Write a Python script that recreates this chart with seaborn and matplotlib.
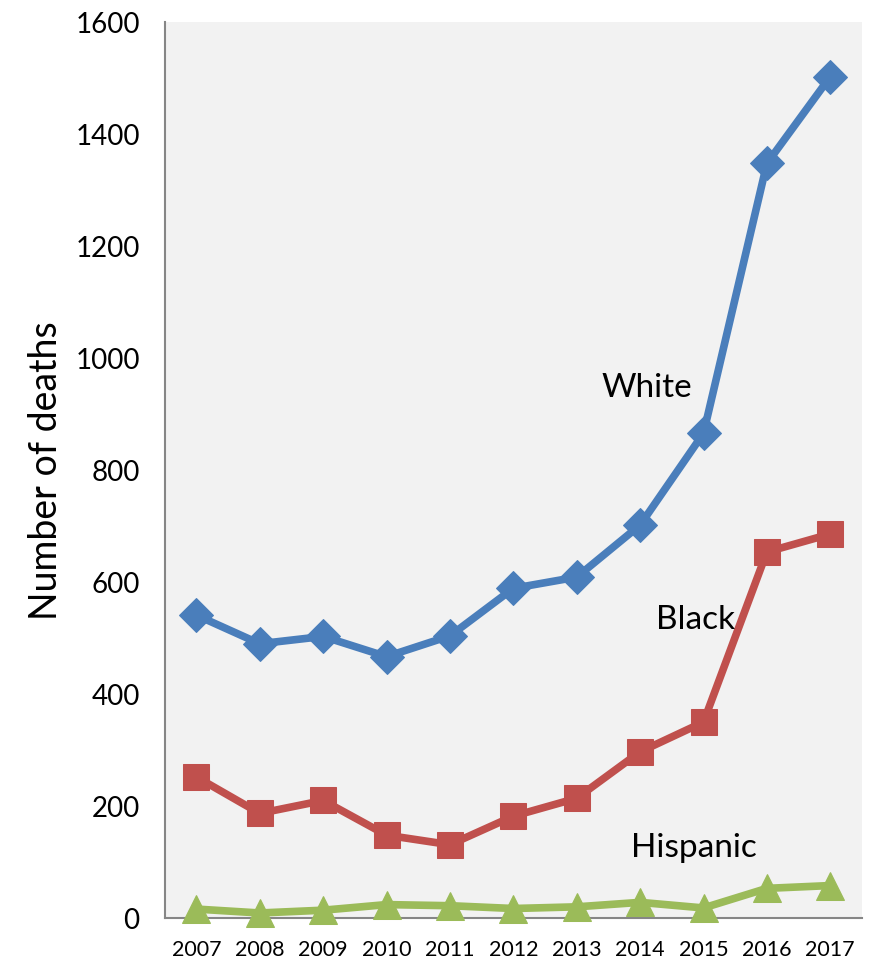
import numpy as np
import pandas as pd
import matplotlib.pyplot as plt
from matplotlib.ticker import FixedLocator
import seaborn as sns

# -----------------------------
# DATA
# -----------------------------
years = ["2007", "2008", "2009", "2010", "2011", "2012",
         "2013", "2014", "2015", "2016", "2017"]
white = [541, 490, 503, 467, 504, 589, 609, 702, 866, 1348, 1503]
black = [252, 187, 210, 148, 131, 182, 214, 297, 350, 654, 686]
hispanic = [16, 9, 14, 24, 22, 17, 20, 28, 18, 53, 58]

series_names = ["White", "Black", "Hispanic"]
series_values = [white, black, hispanic]
series_colors = ["#4A7EBB", "#C0504D", "#9BBB59"]
series_markers = ["D", "s", "^"]
series_msize = [17, 19, 20]

# label positions (year index, value)
label_pos = {"White": (7.1, 946), "Black": (7.87, 532), "Hispanic": (7.85, 125)}

# -----------------------------
# STYLE
# -----------------------------
sns.set_style("white")
plt.rcParams["font.family"] = ["Lato", "DejaVu Sans"]
plt.rcParams["text.color"] = "black"
plt.rcParams["axes.labelcolor"] = "black"
plt.rcParams["xtick.labelcolor"] = "black"
plt.rcParams["ytick.labelcolor"] = "black"

rows = []
for name, vals in zip(series_names, series_values):
    for i, v in enumerate(vals):
        rows.append({"idx": i, "deaths": v, "race": name})
df = pd.DataFrame(rows)

fig = plt.figure(figsize=(8.76, 9.73), dpi=100)
ax = fig.add_axes([0.188, 0.0565, 0.796, 0.9205])
ax.set_facecolor("#F2F2F2")

for name, col, mk, ms in zip(series_names, series_colors, series_markers, series_msize):
    sub = df[df["race"] == name]
    sns.lineplot(data=sub, x="idx", y="deaths", ax=ax, color=col, linewidth=5.5,
                 marker=mk, markersize=ms, markeredgecolor=col, sort=False,
                 clip_on=False, zorder=3)

for name, (x, y) in label_pos.items():
    ax.text(x, y, name, fontsize=24, ha="center", va="center", color="black")

ax.set_xlim(-0.5, len(years) - 0.5)
ax.set_ylim(0, 1600)
ax.set_yticks(np.arange(0, 1601, 200))
ax.set_xticks(range(len(years)))
ax.set_xticklabels(years, fontsize=15.5)
ax.xaxis.set_minor_locator(FixedLocator(np.arange(-0.5, len(years), 1.0)))
ax.tick_params(axis="x", which="major", length=0, pad=16)
ax.tick_params(axis="x", which="minor", length=8, width=1.3, color="#868686", direction="out")
ax.tick_params(axis="y", length=8, width=1.3, color="#868686", direction="out",
               labelsize=20, pad=10)
ax.set_xlabel("")
ax.set_ylabel("Number of deaths", fontsize=27, labelpad=8)

for side in ["top", "right"]:
    ax.spines[side].set_visible(False)
for side in ["left", "bottom"]:
    ax.spines[side].set_color("#868686")
    ax.spines[side].set_linewidth(1.5)

plt.savefig("out.png", dpi=100)
